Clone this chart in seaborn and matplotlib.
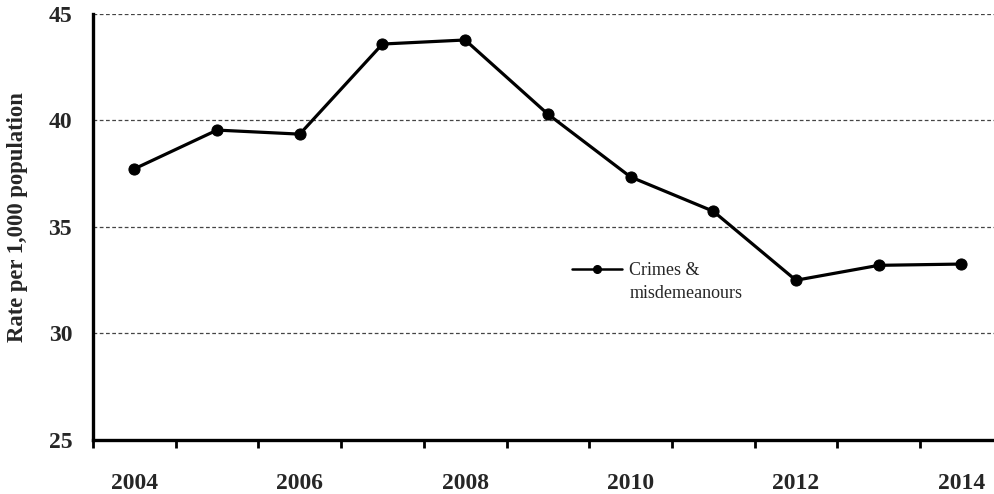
import numpy as np
import pandas as pd
import matplotlib
matplotlib.use("Agg")
import matplotlib.pyplot as plt
from matplotlib.lines import Line2D
from matplotlib.ticker import FixedLocator, NullFormatter
import seaborn as sns

# ---- data ----
years = [2004, 2005, 2006, 2007, 2008, 2009, 2010, 2011, 2012, 2013, 2014]
rates = [37.73, 39.55, 39.36, 43.59, 43.78, 40.30, 37.35, 35.74, 32.50, 33.20, 33.26]
year_labels = ["2004", "", "2006", "", "2008", "", "2010", "", "2012", "", "2014"]
y_ticks = [25, 30, 35, 40, 45]
series_label = ["Crimes &", "misdemeanours"]
y_label = "Rate per 1,000 population"

sns.set_style("white")
plt.rcParams["font.family"] = ["Liberation Serif", "DejaVu Serif"]

W, H = 995, 494
fig = plt.figure(figsize=(W / 100, H / 100), dpi=100)
left, right, top, bottom = 93, 1002.7, 14, 440
ax = fig.add_axes([left / W, (H - bottom) / H, (right - left) / W, (bottom - top) / H])

df = pd.DataFrame({"pos": np.arange(len(years)), "rate": rates})
sns.lineplot(data=df, x="pos", y="rate", ax=ax, color="black", linewidth=2.3,
             marker="o", markersize=8, markeredgecolor="black",
             markerfacecolor="black", legend=False)

ax.set_xlim(-0.5, len(years) - 0.5)
ax.set_ylim(25, 45)

# y axis
ax.set_yticks(y_ticks)
ax.set_yticklabels([str(v) for v in y_ticks], fontsize=17, fontweight="bold")
ax.tick_params(axis="y", which="major", direction="out", length=5, width=1.5,
               pad=10, color="black")
ax.yaxis.grid(True, linestyle=(0, (3, 2)), color="#444444", linewidth=0.9)
ax.xaxis.grid(False)

# x axis: labels at category centres, ticks at boundaries
ax.set_xticks(np.arange(len(years)))
ax.set_xticklabels(year_labels, fontsize=17, fontweight="bold")
ax.tick_params(axis="x", which="major", length=0, pad=24)
ax.xaxis.set_minor_locator(FixedLocator(np.arange(len(years) + 1) - 0.5))
ax.xaxis.set_minor_formatter(NullFormatter())
ax.tick_params(axis="x", which="minor", direction="out", length=6, width=2,
               color="black", bottom=True)

for s in ["top", "right"]:
    ax.spines[s].set_visible(False)
for s in ["left", "bottom"]:
    ax.spines[s].set_color("black")
    ax.spines[s].set_linewidth(2.4)

ax.set_xlabel("")
ax.set_ylabel(y_label, fontsize=16.3, fontweight="bold")
ax.yaxis.set_label_coords((28 - left) / (right - left), (bottom - 217) / (bottom - top))

handles = [Line2D([], [], color="black", linewidth=1.8, marker="o", markersize=5.5),
           Line2D([], [], linestyle="none")]
leg = ax.legend(handles, series_label, loc="upper left",
                bbox_to_anchor=(571.7 / W, 1 - 262 / H), bbox_transform=fig.transFigure,
                frameon=False, fontsize=13, borderpad=0, borderaxespad=0,
                handlelength=2.8, handletextpad=0.4, labelspacing=0.35)

fig.savefig("out.png", dpi=100)
